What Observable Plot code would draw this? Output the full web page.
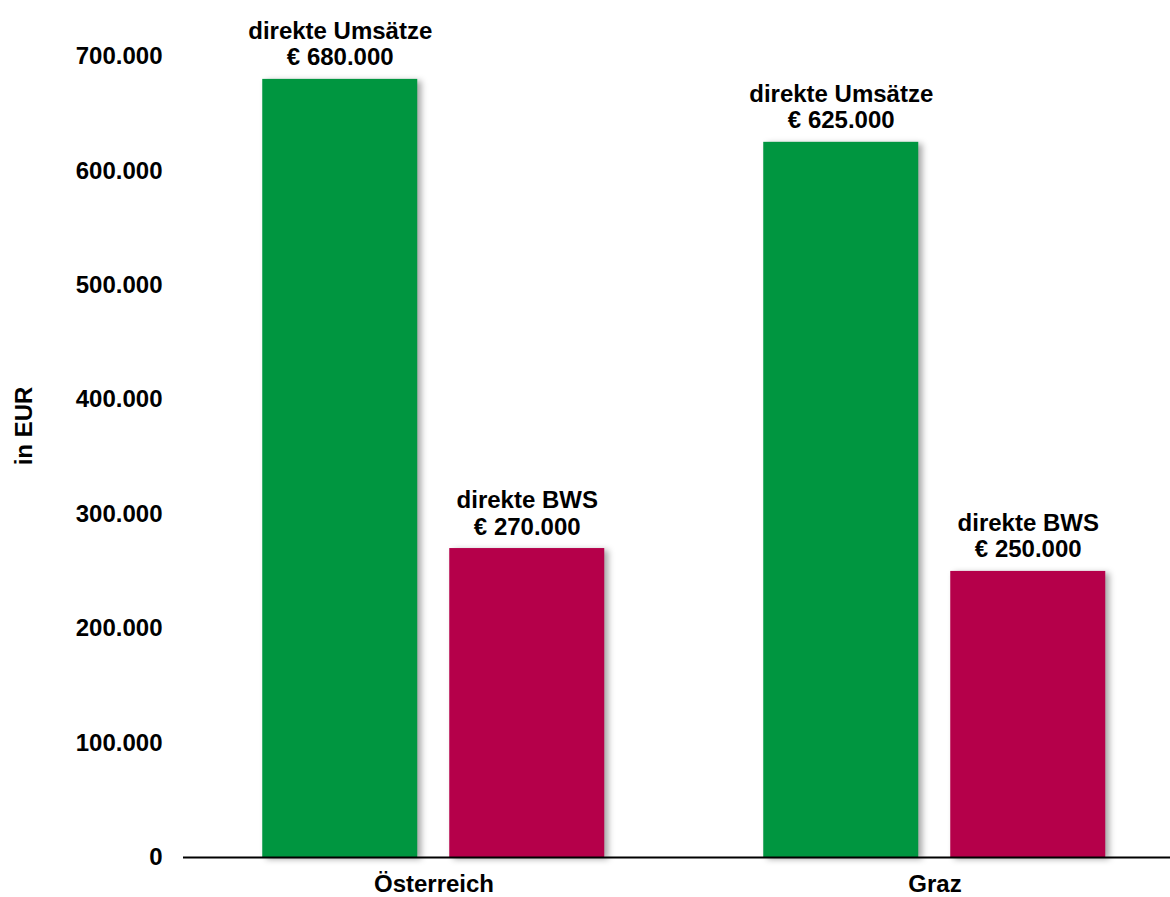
<!DOCTYPE html>
<html>
<head>
<meta charset="utf-8">
<script src="https://cdn.jsdelivr.net/npm/d3@7"></script>
<script src="https://cdn.jsdelivr.net/npm/@observablehq/plot@0.6"></script>
<style>
  html, body { margin: 0; padding: 0; background: #fff; overflow: hidden; }
  #chart svg g[aria-label="bar"] rect { filter: drop-shadow(4px 2px 3px rgba(0,0,0,0.35)); }
</style>
</head>
<body>
<div id="chart"></div>
<script>
const regions = ["Österreich", "Graz"];
const series = ["direkte Umsätze", "direkte BWS"];
const umsaetze = [680000, 625000];
const bws = [270000, 250000];
const yTicks = [0, 100000, 200000, 300000, 400000, 500000, 600000, 700000];
const yLabel = "in EUR";
const colors = ["#009640", "#B5004A"];

const fmt = d => d3.format(",")(d).replace(/,/g, ".");

const data = [];
regions.forEach((r, i) => {
  data.push({region: r, series: series[0], value: umsaetze[i]});
  data.push({region: r, series: series[1], value: bws[i]});
});

const chart = Plot.plot({
  width: 1170,
  height: 897,
  marginLeft: 181.75,
  marginRight: -15.25,
  marginTop: 56,
  marginBottom: 40,
  style: {fontFamily: "'Liberation Sans', Arial, sans-serif", fontSize: "24px", fontWeight: "bold", color: "#000", background: "#fff"},
  fx: {domain: regions, padding: 0, axis: "bottom", tickSize: 0, tickPadding: 17, label: null},
  x: {domain: series, paddingInner: 0.17, paddingOuter: 0.419, axis: null},
  y: {domain: [0, 700000], ticks: yTicks, tickFormat: fmt, tickSize: 0, tickPadding: 21, label: null},
  color: {domain: series, range: colors},
  marks: [
    Plot.barY(data, {fx: "region", x: "series", y: "value", fill: "series"}),
    Plot.text(data, {fx: "region", x: "series", y: "value", text: d => d.series + "\n€ " + fmt(d.value), lineAnchor: "bottom", dy: -14, lineHeight: 1.1, fill: "#000"}),
    Plot.ruleY([0], {stroke: "#000", strokeWidth: 2}),
    Plot.text([yLabel], {fx: () => regions[0], text: d => d, frameAnchor: "left", textAnchor: "middle", rotate: -90, dx: -159, dy: -31, fill: "#000"})
  ]
});
document.getElementById("chart").appendChild(chart);
</script>
</body>
</html>
